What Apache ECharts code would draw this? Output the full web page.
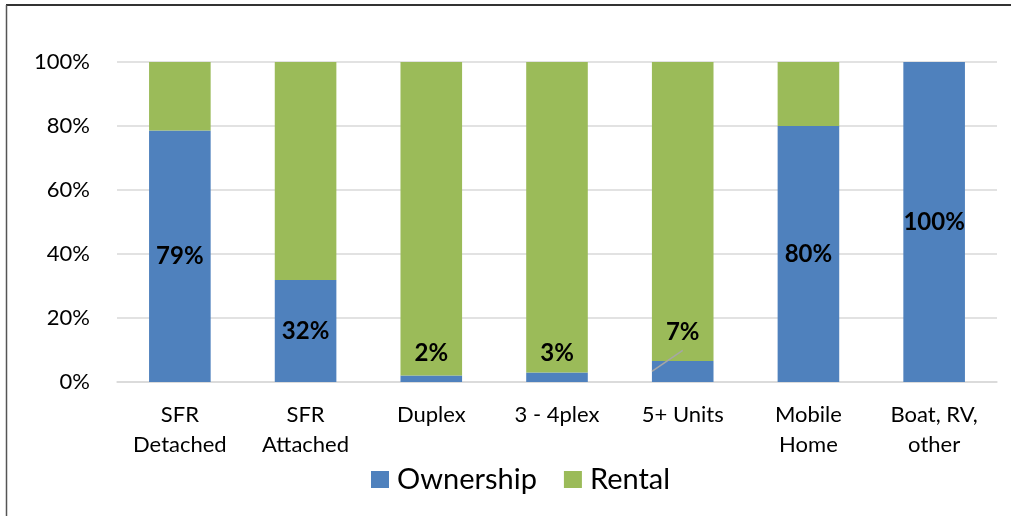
<!DOCTYPE html>
<html><head><meta charset="utf-8">
<script src="https://cdn.jsdelivr.net/npm/echarts@6/dist/echarts.min.js"></script>
<style>html,body{margin:0;padding:0;background:#fff}#c{width:1011px;height:516px}</style>
</head><body><div id="c"></div>
<script>
const categories = ['SFR\nDetached', 'SFR\nAttached', 'Duplex', '3 - 4plex', '5+ Units', 'Mobile\nHome', 'Boat, RV,\nother'];
const ownership = [78.6, 31.9, 2, 3, 6.6, 80, 100];
const rental = [21.4, 68.1, 98, 97, 93.4, 20, 0];
const ownershipLabels = ['79%', '32%', '2%', '3%', '7%', '80%', '100%'];
const yTicks = [0, 20, 40, 60, 80, 100];

const FONT = 'Lato, "Open Sans", sans-serif';
const labelShift = {2: -26, 3: -24, 4: -39};
const leaderIndex = 4;
const BAR_RATIO = 0.49;

const chart = echarts.init(document.getElementById('c'), null, {renderer: 'canvas'});
chart.setOption({
  animation: false,
  textStyle: {fontFamily: FONT},
  graphic: [
    {type: 'line', shape: {x1: 6, y1: 5, x2: 1011, y2: 5}, style: {stroke: '#333', lineWidth: 2}},
    {type: 'line', shape: {x1: 6.5, y1: 5, x2: 6.5, y2: 516}, style: {stroke: '#555', lineWidth: 1.5}}
  ],
  grid: {left: 117, right: 14, top: 62, bottom: 134, containLabel: false},
  legend: {
    bottom: 17, left: 366,
    itemWidth: 18, itemHeight: 17, itemGap: 27,
    icon: 'rect',
    textStyle: {fontSize: 29, color: '#000', fontFamily: FONT, padding: [0, 0, 0, 3]},
    data: ['Ownership', 'Rental']
  },
  xAxis: {
    type: 'category', data: categories,
    axisLine: {show: true, lineStyle: {color: '#d9d9d9', width: 1.5}},
    axisTick: {show: false},
    axisLabel: {fontSize: 22, color: '#000', lineHeight: 30, margin: 18, fontFamily: FONT, interval: 0}
  },
  yAxis: {
    type: 'value', min: yTicks[0], max: yTicks[yTicks.length - 1], interval: 20,
    axisLine: {show: false}, axisTick: {show: false},
    splitLine: {lineStyle: {color: '#d9d9d9', width: 1.5}},
    axisLabel: {fontSize: 22, color: '#000', margin: 27, fontFamily: FONT, formatter: v => v + '%'}
  },
  series: [
    {
      name: 'Ownership', type: 'bar', stack: 'a', barWidth: (BAR_RATIO * 100) + '%',
      data: ownership,
      itemStyle: {color: '#4f81bd'},
      label: {
        show: true, position: 'inside', fontSize: 24, fontWeight: 'bold', color: '#000',
        fontFamily: FONT,
        formatter: p => ownershipLabels[p.dataIndex]
      },
      labelLayout: p => labelShift[p.dataIndex] !== undefined ? {dy: labelShift[p.dataIndex]} : {}
    },
    {
      name: 'Rental', type: 'bar', stack: 'a', barWidth: (BAR_RATIO * 100) + '%',
      data: rental,
      itemStyle: {color: '#9bbb59'}
    },
    {
      name: 'leader', type: 'custom', z: 10, silent: true,
      data: [[leaderIndex, ownership[leaderIndex]]],
      renderItem: (params, api) => {
        const mid = api.coord([api.value(0), api.value(1) / 2]);
        const w = api.size([1, 0])[0] * BAR_RATIO;
        return {
          type: 'line',
          shape: {x1: mid[0] - w / 2, y1: mid[1], x2: mid[0], y2: mid[1] - 21},
          style: {stroke: '#a6a6a6', lineWidth: 1.5}
        };
      }
    }
  ]
});
</script></body></html>
